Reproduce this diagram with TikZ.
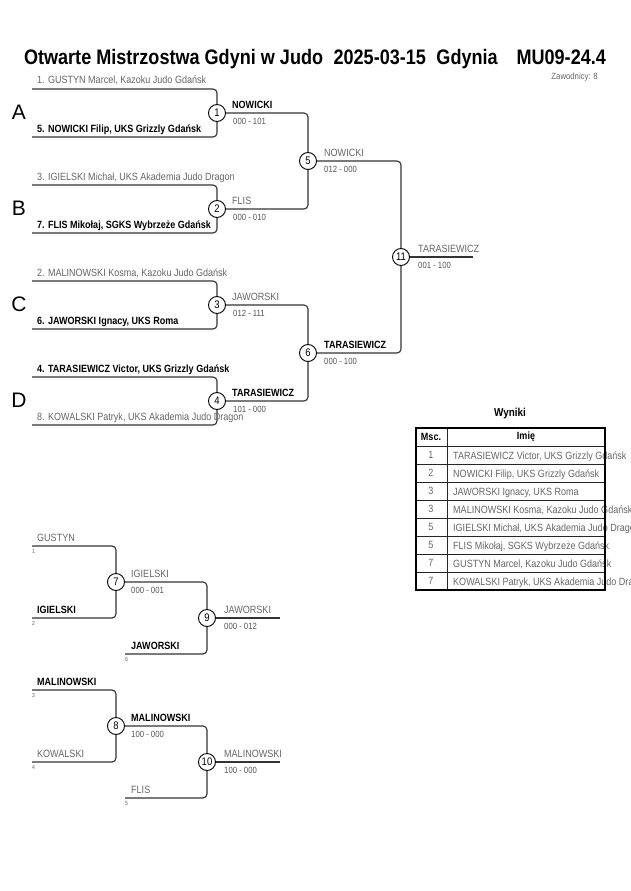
\documentclass[tikz,border=0pt]{standalone}
\usepackage{fontspec}
\setmainfont[FakeStretch=0.86]{Liberation Sans}
\newfontfamily\letterfont{Liberation Sans}
\definecolor{txtgray}{HTML}{666666}
\definecolor{scoregray}{HTML}{555555}
\definecolor{linegray}{HTML}{333333}
\begin{document}
\begin{tikzpicture}[x=1pt,y=-1pt,
  bline/.style={draw=linegray, line width=1.1pt, rounded corners=4pt},
  mcirc/.style={circle, draw=black, line width=0.9pt, fill=white, minimum size=17pt, inner sep=0pt, font=\fontsize{11}{11}\selectfont},
  lname/.style={anchor=base west, inner sep=0pt, text=txtgray, font=\fontsize{10.5}{12}\selectfont},
  wname/.style={anchor=base west, inner sep=0pt, text=black, font=\fontsize{10.5}{12}\selectfont\bfseries},
  score/.style={anchor=base west, inner sep=0pt, text=scoregray, font=\fontsize{9}{10}\selectfont},
  seed/.style={anchor=base west, inner sep=0pt, text=txtgray, font=\fontsize{6}{6}\selectfont},
  poolletter/.style={inner sep=0pt, font=\letterfont\fontsize{21}{21}\selectfont},
  tcell/.style={inner sep=0pt, text=txtgray, font=\fontsize{10.5}{12}\selectfont},
  thead/.style={inner sep=0pt, text=black, font=\fontsize{10.5}{12}\selectfont\bfseries},
  tname/.style={anchor=base west, inner sep=0pt, text=txtgray, font=\fontsize{10.5}{12}\selectfont},
  tline/.style={draw=black!85, line width=0.7pt}
]
\fill[white] (0,0) rectangle (630,891);
\useasboundingbox (0,0) rectangle (630,891);

% title
\node[anchor=base, inner sep=0pt, font=\fontsize{21}{22}\selectfont\bfseries] (title) at (315,64)
  {Otwarte Mistrzostwa Gdyni w Judo\hspace{0.5em}2025-03-15\hspace{0.5em}Gdynia\hspace{0.9em}MU09-24.4};
\node[anchor=base east, inner sep=0pt, text=txtgray, font=\fontsize{9}{10}\selectfont] (zaw) at (598,80) {Zawodnicy: 8};

% pool letters
\node[poolletter] (pA) at (19,112) {A};
\node[poolletter] (pB) at (19,208) {B};
\node[poolletter] (pC) at (19,304) {C};
\node[poolletter] (pD) at (19,400) {D};

% match circles
\node[mcirc] (m1) at (217,113) {1};
\node[mcirc] (m2) at (217,209) {2};
\node[mcirc] (m3) at (217,305) {3};
\node[mcirc] (m4) at (217,401) {4};
\node[mcirc] (m5) at (308,161) {5};
\node[mcirc] (m6) at (308,353) {6};
\node[mcirc] (m11) at (401,257) {11};
\node[mcirc] (m7) at (116,582) {7};
\node[mcirc] (m9) at (207,618) {9};
\node[mcirc] (m8) at (116,726) {8};
\node[mcirc] (m10) at (207,762) {10};

% line start/end coordinates
\coordinate (a1) at (32,89);
\coordinate (a2) at (32,137);
\coordinate (b1) at (32,185);
\coordinate (b2) at (32,233);
\coordinate (c1) at (32,281);
\coordinate (c2) at (32,329);
\coordinate (d1) at (32,377);
\coordinate (d2) at (32,425);
\coordinate (fin) at (473,257);
\coordinate (r1) at (32,546);
\coordinate (r2) at (32,618);
\coordinate (r6) at (125,654);
\coordinate (rf1) at (280,618);
\coordinate (r3) at (32,690);
\coordinate (r4) at (32,762);
\coordinate (r5) at (125,798);
\coordinate (rf2) at (280,762);

% connectors main bracket
\draw[bline] (a1) -| (m1);
\draw[bline] (a2) -| (m1);
\draw[bline] (b1) -| (m2);
\draw[bline] (b2) -| (m2);
\draw[bline] (c1) -| (m3);
\draw[bline] (c2) -| (m3);
\draw[bline] (d1) -| (m4);
\draw[bline] (d2) -| (m4);
\draw[bline] (m1) -| (m5);
\draw[bline] (m2) -| (m5);
\draw[bline] (m3) -| (m6);
\draw[bline] (m4) -| (m6);
\draw[bline] (m5) -| (m11);
\draw[bline] (m6) -| (m11);
\draw[bline] (m11) -- (fin);

% repechage connectors
\draw[bline] (r1) -| (m7);
\draw[bline] (r2) -| (m7);
\draw[bline] (m7) -| (m9);
\draw[bline] (r6) -| (m9);
\draw[bline] (m9) -- (rf1);
\draw[bline] (r3) -| (m8);
\draw[bline] (r4) -| (m8);
\draw[bline] (m8) -| (m10);
\draw[bline] (r5) -| (m10);
\draw[bline] (m10) -- (rf2);

% first round names
\node[lname] (na1) at (37,84) {1. GUSTYN Marcel, Kazoku Judo Gdańsk};
\node[wname] (na2) at (37,132) {5. NOWICKI Filip, UKS Grizzly Gdańsk};
\node[lname] (nb1) at (37,180) {3. IGIELSKI Michał, UKS Akademia Judo Dragon};
\node[wname] (nb2) at (37,228) {7. FLIS Mikołaj, SGKS Wybrzeże Gdańsk};
\node[lname] (nc1) at (37,276) {2. MALINOWSKI Kosma, Kazoku Judo Gdańsk};
\node[wname] (nc2) at (37,324) {6. JAWORSKI Ignacy, UKS Roma};
\node[wname] (nd1) at (37,372) {4. TARASIEWICZ Victor, UKS Grizzly Gdańsk};
\node[lname] (nd2) at (37,420) {8. KOWALSKI Patryk, UKS Akademia Judo Dragon};

% winners and scores
\node[wname] (w1) at (232,108) {NOWICKI};
\node[score] (s1) at (233,124) {000 - 101};
\node[lname] (w2) at (232,204) {FLIS};
\node[score] (s2) at (233,220) {000 - 010};
\node[lname] (w3) at (232,300) {JAWORSKI};
\node[score] (s3) at (233,316) {012 - 111};
\node[wname] (w4) at (232,396) {TARASIEWICZ};
\node[score] (s4) at (233,412) {101 - 000};
\node[lname] (w5) at (324,156) {NOWICKI};
\node[score] (s5) at (324,172) {012 - 000};
\node[wname] (w6) at (324,348) {TARASIEWICZ};
\node[score] (s6) at (324,364) {000 - 100};
\node[lname] (w11) at (418,252) {TARASIEWICZ};
\node[score] (s11) at (418,268) {001 - 100};

% repechage labels
\node[lname] (q1) at (37,541) {GUSTYN};
\node[seed] (q1s) at (32,553) {1};
\node[wname] (q2) at (37,613) {IGIELSKI};
\node[seed] (q2s) at (32,625) {2};
\node[lname] (w7) at (131,577) {IGIELSKI};
\node[score] (s7) at (131,593) {000 - 001};
\node[wname] (q6) at (131,649) {JAWORSKI};
\node[seed] (q6s) at (125,661) {6};
\node[lname] (w9) at (224,613) {JAWORSKI};
\node[score] (s9) at (224,629) {000 - 012};

\node[wname] (q3) at (37,685) {MALINOWSKI};
\node[seed] (q3s) at (32,697) {3};
\node[lname] (q4) at (37,757) {KOWALSKI};
\node[seed] (q4s) at (32,769) {4};
\node[wname] (w8) at (131,721) {MALINOWSKI};
\node[score] (s8) at (131,737) {100 - 000};
\node[lname] (q5) at (131,793) {FLIS};
\node[seed] (q5s) at (125,805) {5};
\node[lname] (w10) at (224,757) {MALINOWSKI};
\node[score] (s10) at (224,773) {100 - 000};

% results table
\node[inner sep=0pt, font=\fontsize{11.5}{12}\selectfont\bfseries] (wyniki) at (510,414) {Wyniki};
\node[thead] (hm) at (431,437) {Msc.};
\node[thead] (hi) at (526,437) {Imię};
\foreach \p/\n [count=\i from 0] in {1/{TARASIEWICZ Victor, UKS Grizzly Gdańsk},
  2/{NOWICKI Filip, UKS Grizzly Gdańsk},
  3/{JAWORSKI Ignacy, UKS Roma},
  3/{MALINOWSKI Kosma, Kazoku Judo Gdańsk},
  5/{IGIELSKI Michał, UKS Akademia Judo Dragon},
  5/{FLIS Mikołaj, SGKS Wybrzeże Gdańsk},
  7/{GUSTYN Marcel, Kazoku Judo Gdańsk},
  7/{KOWALSKI Patryk, UKS Akademia Judo Dragon}}{
  \node[tcell] (tp\i) at (431,455+18*\i) {\p};
  \node[tname] (tn\i) at (453,459+18*\i) {\n};
}
\foreach \yy in {446,464,482,500,518,536,554,572}{
  \draw[tline] (416,\yy) -- (605,\yy);
}
\draw[tline] (447,428) -- (447,590);
\draw[draw=black, line width=1.5pt] (416,428) rectangle (605,590);
\end{tikzpicture}
\end{document}
